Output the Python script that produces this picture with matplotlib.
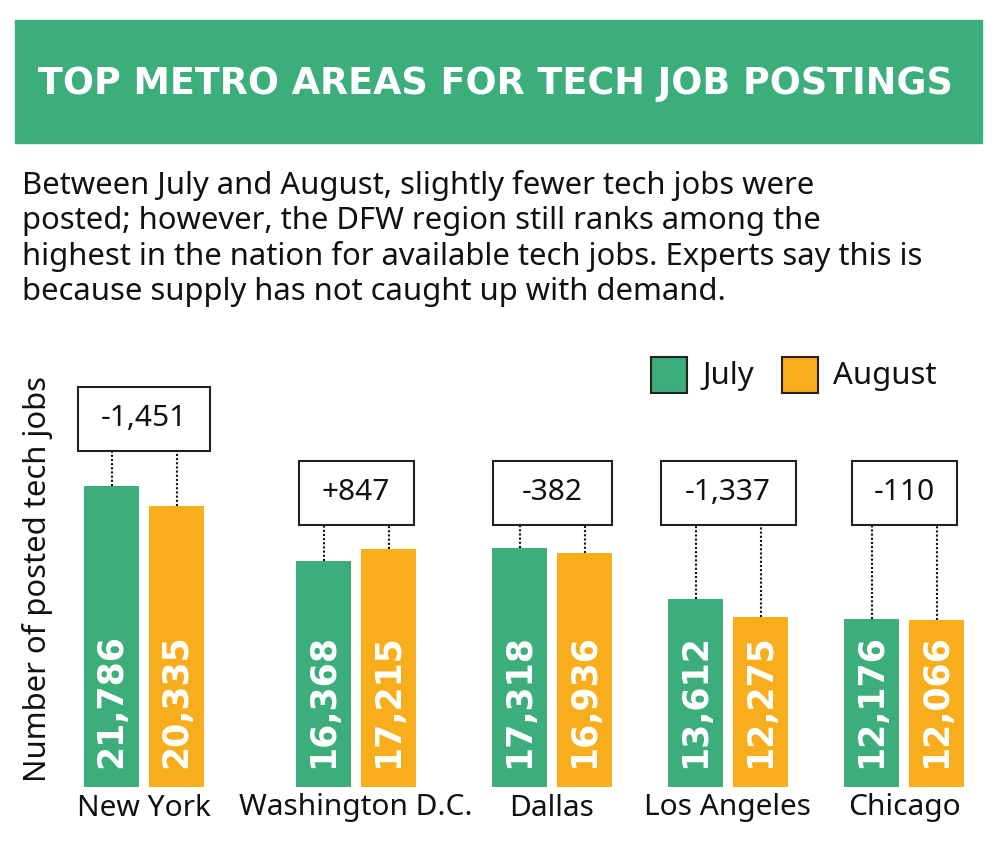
import matplotlib
matplotlib.use("Agg")
import matplotlib.pyplot as plt
from matplotlib.patches import Rectangle
from matplotlib import font_manager

# data
cities = ["New York", "Washington D.C.", "Dallas", "Los Angeles", "Chicago"]
july = [21786, 16368, 17318, 13612, 12176]
august = [20335, 17215, 16936, 12275, 12066]
changes = ["-1,451", "+847", "-382", "-1,337", "-110"]

title = "TOP METRO AREAS FOR TECH JOB POSTINGS"
subtitle = ("Between July and August, slightly fewer tech jobs were\n"
            "posted; however, the DFW region still ranks among the\n"
            "highest in the nation for available tech jobs. Experts say this is\n"
            "because supply has not caught up with demand.")

GREEN = "#3bae7c"
ORANGE = "#f8ad1d"

names = {f.name for f in font_manager.fontManager.ttflist}
narrow = [n for n in ["DejaVu Sans Condensed", "Liberation Sans Narrow"] if n in names]
body = "Noto Sans" if "Noto Sans" in names else "DejaVu Sans"

# layout (pixel units, x across figure)
group_x = [144, 356, 552, 728, 904]
bar_w = 55
gap = 10
box_w = [132, 115, 119, 135, 105]
box_top = [387, 461, 461, 461, 461]
box_h = 64
base_px = 787
top_px = 340
px_per_job = 0.01382

W, H = 1000, 848
fig = plt.figure(figsize=(10, 8.48), dpi=100)

# header / text axes in pixel coordinates
bg = fig.add_axes([0, 0, 1, 1])
bg.set_xlim(0, W)
bg.set_ylim(H, 0)
bg.axis("off")
bg.add_patch(Rectangle((15, 20), 967, 123, color=GREEN, zorder=0))
bg.text(495, 83, title, color="white", fontsize=26.3, fontweight="bold",
        family=narrow + ["DejaVu Sans"], ha="center", va="center")
bg.text(22, 170, subtitle, fontsize=22.3, family=body, ha="left", va="top",
        linespacing=1.21, color="#111111")
bg.text(38, 579, "Number of posted tech jobs", rotation=90, fontsize=22.3,
        family=body, ha="center", va="center", color="#111111")

# legend
for sx, lab, col in [(651, "July", GREEN), (782, "August", ORANGE)]:
    bg.add_patch(Rectangle((sx, 357), 36, 36, facecolor=col, edgecolor="#222222", lw=1.5))
    bg.text(sx + 51, 376, lab, fontsize=22.4, family=body, ha="left", va="center", color="#111111")

# chart axes
ax = fig.add_axes([0, (H - base_px) / H, 1, (base_px - top_px) / H])
ax.set_xlim(0, W)
ax.set_ylim(0, (base_px - top_px) / px_per_job)
ax.axis("off")

jx = [c - gap / 2 - bar_w / 2 for c in group_x]
ax_ = [c + gap / 2 + bar_w / 2 for c in group_x]
ax.bar(jx, july, width=bar_w, color=GREEN)
ax.bar(ax_, august, width=bar_w, color=ORANGE)

def py(p):
    return (base_px - p) / px_per_job

for i in range(len(cities)):
    for x, v in [(jx[i], july[i]), (ax_[i], august[i])]:
        ax.text(x, 1350, f"{v:,}", rotation=90, color="white", fontsize=25,
                fontweight="bold", family=narrow + ["DejaVu Sans"],
                ha="center", va="bottom")
        ax.plot([x, x], [v, py(box_top[i] + box_h)], color="#111111",
                lw=1.5, ls=(0, (1, 1)))
    bx = group_x[i] - box_w[i] / 2
    ax.add_patch(Rectangle((bx, py(box_top[i] + box_h)), box_w[i],
                           box_h / px_per_job, facecolor="white",
                           edgecolor="#222222", lw=1.5, clip_on=False))
    ax.text(group_x[i], py(box_top[i] + box_h / 2), changes[i], fontsize=21.5,
            family=body, ha="center", va="center", color="#111111")
    bg.text(group_x[i], 808, cities[i], fontsize=21.5, family=body,
            ha="center", va="center", color="#111111")

fig.savefig("out.png", dpi=100, facecolor="white")
